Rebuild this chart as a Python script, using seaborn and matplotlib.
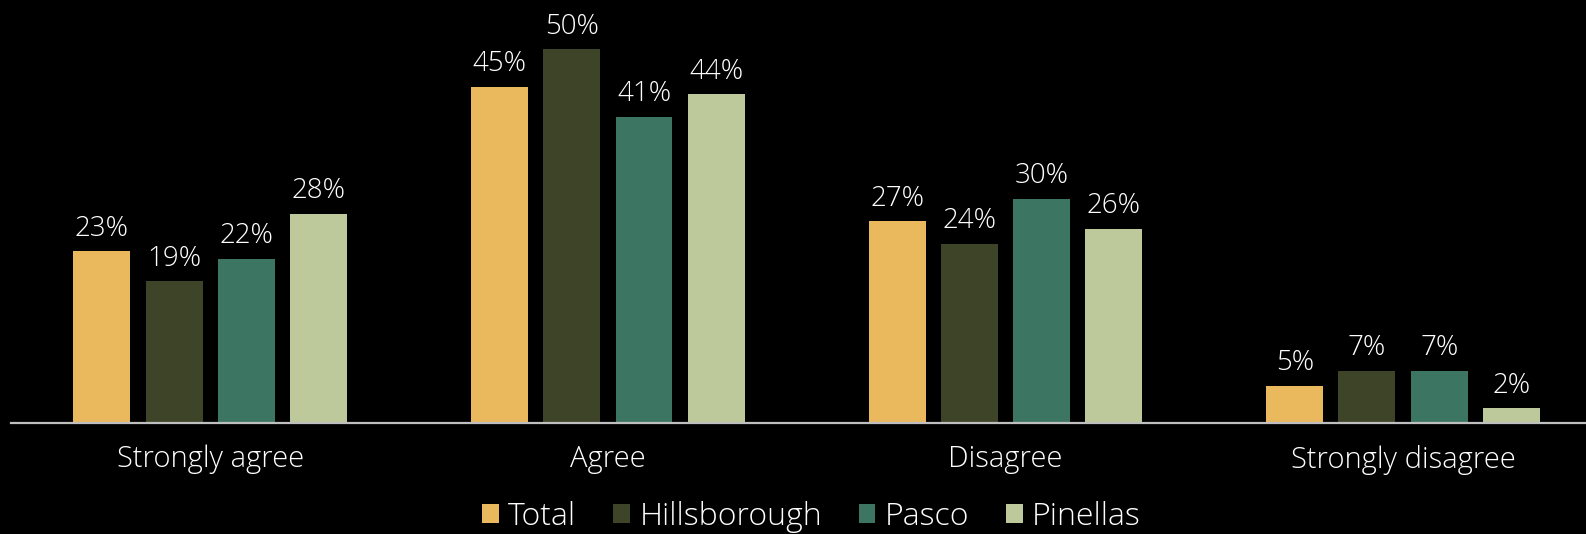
import matplotlib
matplotlib.use("Agg")
import matplotlib.pyplot as plt
import seaborn as sns
import pandas as pd

categories = ["Strongly agree", "Agree", "Disagree", "Strongly disagree"]
series = ["Total", "Hillsborough", "Pasco", "Pinellas"]
total = [23, 45, 27, 5]
hillsborough = [19, 50, 24, 7]
pasco = [22, 41, 30, 7]
pinellas = [28, 44, 26, 2]
colors = ["#EAB95E", "#3E4428", "#3C7662", "#BDC99A"]

rows = []
for s, vals in zip(series, [total, hillsborough, pasco, pinellas]):
    for c, v in zip(categories, vals):
        rows.append({"category": c, "series": s, "value": v})
df = pd.DataFrame(rows)

sns.set_theme(style="dark")
plt.rcParams["font.family"] = ["Open Sans", "DejaVu Sans"]
W = "light"

fig = plt.figure(figsize=(15.86, 5.34), dpi=100, facecolor="black")
ax = fig.add_axes([11.45 / 1586, (534 - 423) / 534, 1 - 11.45 / 1586, 423 / 534])
ax.set_facecolor("black")

sns.barplot(data=df, x="category", y="value", hue="series", order=categories,
            hue_order=series, palette=colors, width=0.727, gap=0.212,
            saturation=1, ax=ax, legend=False, linewidth=0)

for cont in ax.containers:
    ax.bar_label(cont, labels=[f"{int(round(b.get_height()))}%" for b in cont],
                 padding=6, color="white", fontsize=20, fontweight=W)

ax.set_xlim(-0.5, 3.46)
ax.set_ylim(0, 56.6)
ax.set_xlabel("")
ax.set_ylabel("")
ax.set_yticks([])
for side in ["left", "right", "top"]:
    ax.spines[side].set_visible(False)
ax.spines["bottom"].set_visible(True)
ax.spines["bottom"].set_color("#BFBFBF")
ax.spines["bottom"].set_linewidth(1.6)
ax.tick_params(axis="x", length=0, pad=15.5, labelsize=21, labelcolor="white")
for t in ax.get_xticklabels():
    t.set_fontweight(W)
ax.grid(False)

from matplotlib.patches import Patch
handles = [Patch(facecolor=c, edgecolor="none", label=s) for c, s in zip(colors, series)]
leg = fig.legend(handles=handles, loc="center", bbox_to_anchor=(811.5 / 1586, 1 - 517 / 534),
                 ncol=4, frameon=False, fontsize=23, labelcolor="white",
                 handlelength=0.52, handleheight=0.52, handletextpad=0.3,
                 columnspacing=1.15, borderaxespad=0, borderpad=0)
for t in leg.get_texts():
    t.set_fontweight(W)

fig.savefig("out.png", dpi=100, facecolor="black")
